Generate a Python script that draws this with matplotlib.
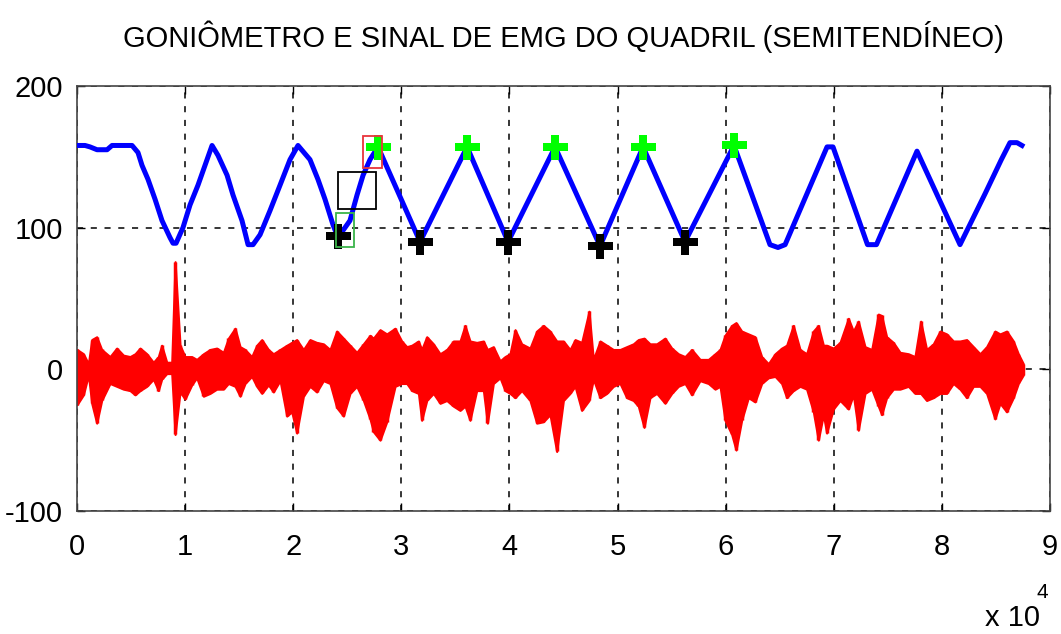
"""
Goniômetro (azul) e sinal de EMG (vermelho) do quadril - semitendíneo.
Valores lidos do gráfico original; amostras no eixo x (x 10^4).
"""
import matplotlib
matplotlib.use("Agg")
import matplotlib.pyplot as plt
from matplotlib.patches import Rectangle

TITLE = "GONIÔMETRO E SINAL DE EMG DO QUADRIL (SEMITENDÍNEO)"

# goniômetro: pontos de quebra (amostra, ângulo)
GONIO_X = [0, 740, 1200, 1850, 2780, 3240, 5090, 5640, 6010, 6570, 7220, 7860,
           8600, 8880, 9160, 9800, 10450, 11190, 11840, 12490, 13040, 13880,
           14430, 15260, 15820, 16280, 16930, 17850, 18780, 19700, 20440,
           21550, 22290, 22940, 23680, 24140, 25250, 25900, 26460, 27100,
           27840, 31730, 36080, 39870, 44220, 48380, 52360, 56240, 60770,
           64100, 64840, 65500, 69380, 69930, 73120, 73540, 73950, 77700,
           81680, 84000, 85500, 86300, 86950, 87410]
GONIO_Y = [158, 158, 157, 155, 155, 158, 158, 153, 144, 134, 120, 105,
           93, 89, 89, 100, 116, 130, 144, 158, 151, 137,
           123, 105, 88, 88, 95, 112, 130, 148, 158,
           148, 134, 120, 102, 93, 105, 123, 137, 148,
           157, 90, 157, 90, 157, 87, 157, 90, 158,
           88, 86, 88, 157, 157, 88, 88, 88, 154,
           88, 124, 148, 160, 160, 158]

# picos (verde) e vales (preto) detectados
PEAK_X = [27840, 36080, 44220, 52360, 60770]
PEAK_Y = [157, 157, 157, 157, 158]
VALLEY_X = [24140, 31730, 39870, 48380, 56240]
VALLEY_Y = [94, 90, 90, 87, 90]

# janelas marcadas: (x0, x1, y0, y1)
BOX_RED = (26460, 28210, 142, 165)
BOX_BLACK = (24140, 27660, 113, 139)
BOX_GREEN = (23960, 25620, 86, 110)

# EMG: envoltória superior / inferior
EMG_X = [0, 590, 1050, 1360, 1820, 2280, 3050, 3670, 4290, 4900, 5370, 5830,
         6450, 7060, 7520, 7830, 8300, 8760, 9070, 9530, 9990, 10610, 11070,
         11690, 12300, 12920, 13540, 14000, 14620, 15080, 15540, 16160, 16620,
         17090, 17700, 18160, 18780, 19400, 19860, 20320, 20940, 21550, 22170,
         22790, 23400, 24020, 24640, 25250, 25870, 26490, 27100, 27410, 28030,
         28650, 29420, 30030, 30500, 30960, 31580, 31880, 32350, 32960, 33580,
         34200, 34810, 35430, 35890, 36350, 36970, 37590, 37960, 38510, 39130,
         39590, 40050, 40520, 41130, 41900, 42520, 43140, 43750, 44370, 44990,
         45600, 46070, 46680, 47360, 47760, 48380, 49000, 49610, 50230, 50840,
         51460, 51920, 52450, 53000, 53620, 54390, 55010, 55620, 56240, 56860,
         57630, 58400, 59020, 59480, 59940, 60560, 60960, 61480, 62100, 62720,
         63330, 63950, 64570, 65180, 65640, 66260, 66880, 67490, 68110, 68570,
         69040, 69340, 69960, 70580, 71350, 71810, 72270, 72890, 73510, 74120,
         74430, 74890, 75510, 76130, 76900, 77510, 78040, 78590, 79210, 79830,
         80440, 81060, 81680, 82290, 82910, 83530, 84140, 84910, 85380, 85990,
         86610, 87070, 87530]
EMG_UP = [14, 11, 4, 21, 23, 14, 9, 15, 10, 9, 11, 15,
          11, 5, 9, 17, 5, 5, 76, 17, 9, 9, 7,
          11, 14, 15, 12, 22, 29, 16, 14, 9, 17,
          21, 14, 11, 14, 17, 19, 21, 14, 21, 19,
          18, 14, 27, 22, 17, 12, 18, 24, 22, 28,
          25, 29, 20, 16, 17, 20, 14, 23, 18, 11,
          14, 20, 20, 31, 20, 19, 20, 14, 16, 6,
          9, 11, 28, 18, 15, 27, 31, 27, 20, 20,
          14, 21, 19, 41, 7, 20, 17, 14, 14, 16,
          18, 21, 22, 18, 18, 22, 15, 11, 9, 14,
          7, 7, 11, 14, 24, 31, 33, 27, 25, 23,
          9, 4, 11, 15, 17, 31, 14, 11, 27, 31,
          17, 17, 15, 19, 36, 27, 34, 16, 14, 39,
          38, 23, 19, 12, 11, 9, 34, 14, 18, 27,
          25, 20, 20, 21, 16, 11, 16, 27, 25, 27,
          20, 11, 4]
EMG_LO = [-25, -18, -4, -24, -38, -22, -10, -12, -14, -15, -18, -15,
          -12, -7, -15, -7, -3, -3, -46, -16, -21, -11, -6,
          -19, -17, -14, -14, -10, -12, -19, -10, -5, -12,
          -17, -11, -16, -8, -33, -30, -45, -19, -12, -16,
          -8, -10, -27, -33, -17, -12, -22, -35, -44, -50,
          -37, -12, -10, -10, -15, -17, -36, -22, -17, -24,
          -22, -26, -29, -26, -36, -15, -15, -38, -10, -6,
          -15, -17, -20, -15, -22, -38, -37, -32, -58, -22,
          -17, -12, -29, -22, -7, -20, -17, -12, -10, -20,
          -22, -26, -41, -20, -17, -24, -17, -12, -10, -18,
          -8, -10, -14, -12, -36, -46, -57, -36, -20, -23,
          -10, -6, -5, -10, -20, -15, -12, -14, -30, -50,
          -32, -45, -28, -22, -28, -18, -43, -17, -14, -26,
          -32, -20, -14, -14, -12, -17, -17, -22, -20, -17,
          -17, -10, -14, -20, -12, -12, -17, -35, -24, -30,
          -20, -10, -4]

X_TICKS = [0, 10000, 20000, 30000, 40000, 50000, 60000, 70000, 80000, 90000]
X_TICKLABELS = ["0", "1", "2", "3", "4", "5", "6", "7", "8", "9"]
Y_TICKS = [-100, 0, 100, 200]

FONT = ["Liberation Sans", "DejaVu Sans"]


def main():
    plt.rcParams["font.family"] = FONT
    plt.rcParams["axes.unicode_minus"] = False
    fig = plt.figure(figsize=(10.61, 6.34), dpi=100)
    ax = fig.add_axes([0.0726, 0.194, 0.9170, 0.6704])

    # EMG: corpo preenchido + traços verticais nos picos
    ax.fill_between(EMG_X, EMG_LO, EMG_UP, color="#ff0000",
                    linewidth=1.5, edgecolor="#ff0000", zorder=2)
    ax.vlines(EMG_X, EMG_LO, EMG_UP, color="#ff0000", linewidth=2.5, zorder=2)

    ax.plot(GONIO_X, GONIO_Y, color="#0000ff", linewidth=3.6, zorder=3,
            solid_joinstyle="round")

    ax.plot(PEAK_X, PEAK_Y, linestyle="none", marker="P", markersize=18,
            color="#00ff00", markeredgewidth=0, zorder=4)
    ax.plot(VALLEY_X, VALLEY_Y, linestyle="none", marker="P", markersize=18,
            color="black", markeredgewidth=0, zorder=4)

    for box, col in [(BOX_RED, "#e8343c"), (BOX_BLACK, "black"), (BOX_GREEN, "#3cb44b")]:
        x0, x1, y0, y1 = box
        ax.add_patch(Rectangle((x0, y0), x1 - x0, y1 - y0, fill=False,
                               edgecolor=col, linewidth=1.3, zorder=5))

    ax.set_xlim(0, 90000)
    ax.set_ylim(-100, 200)
    ax.set_xticks(X_TICKS)
    ax.set_xticklabels(X_TICKLABELS)
    ax.set_yticks(Y_TICKS)
    ax.grid(True, color="black", linestyle=(0, (4, 5)), linewidth=1.1)
    ax.tick_params(direction="in", length=6, width=1, top=True, right=True,
                   labelsize=21, pad=10)
    ax.tick_params(axis="x", pad=16)
    for s in ax.spines.values():
        s.set_linewidth(1.2)
        s.set_color("#444444")

    ax.set_title(TITLE, fontsize=21, pad=28)

    fig.text(0.928, 0.012, "x 10", fontsize=21, ha="left", va="baseline")
    fig.text(0.977, 0.056, "4", fontsize=15, ha="left", va="baseline")

    fig.savefig("out.png", dpi=100)
    plt.close(fig)


if __name__ == "__main__":
    main()
